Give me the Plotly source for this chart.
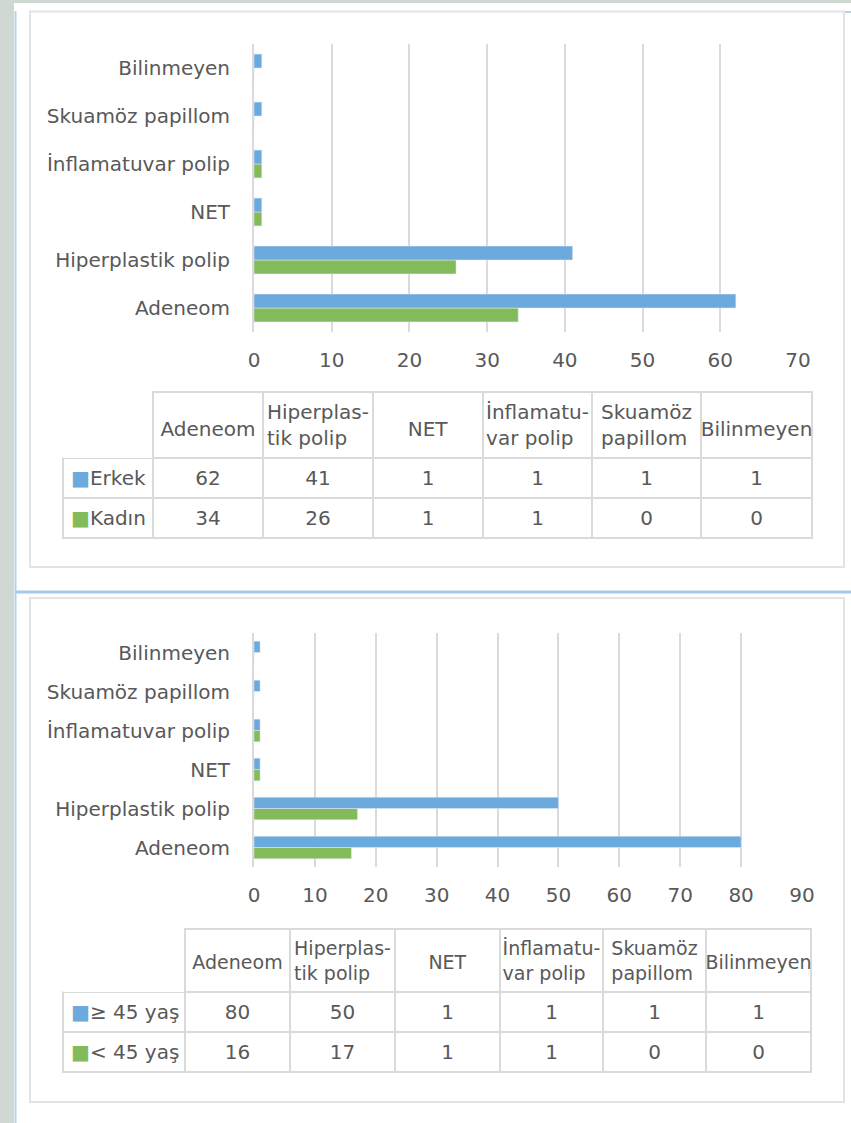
import plotly.graph_objects as go

W, H = 851, 1123

# ---------------- data ----------------
categories = ["Adeneom", "Hiperplastik polip", "NET", "İnflamatuvar polip",
              "Skuamöz papillom", "Bilinmeyen"]
table_headers = ["Adeneom", "Hiperplas-<br>tik polip", "NET", "İnflamatu-<br>var polip",
                 "Skuamöz<br>papillom", "Bilinmeyen"]

sex_names = ["Erkek", "Kadın"]
erkek = [62, 41, 1, 1, 1, 1]
kadin = [34, 26, 1, 1, 0, 0]

age_names = ["≥ 45 yaş", "&lt; 45 yaş"]
age_ge45 = [80, 50, 1, 1, 1, 1]
age_lt45 = [16, 17, 1, 1, 0, 0]

top_xmax = 70
bottom_xmax = 90

# ---------------- style ----------------
BLUE = "#6CA9DD"
GREEN = "#83BB5B"
GRID = "#DADADA"
TXT = "#595959"
FONT = "DejaVu Sans"


def px(x):
    return x / W


def py(y):
    return 1 - y / H


def square(color):
    return f"<span style='color:{color};font-size:20px'>■</span>"


def header_text(s, lead):
    if "<br>" in s:
        return s
    # single-line header: a small invisible first line pushes it to the middle
    return f"<span style='font-size:{lead}px'>&nbsp;</span><br>{s}"


fig = go.Figure()

# ---- top chart (sex) ----
fig.add_trace(go.Bar(y=categories, x=kadin, orientation="h", name=sex_names[1],
                     marker=dict(color=GREEN), xaxis="x", yaxis="y", showlegend=False))
fig.add_trace(go.Bar(y=categories, x=erkek, orientation="h", name=sex_names[0],
                     marker=dict(color=BLUE), xaxis="x", yaxis="y", showlegend=False))

# ---- bottom chart (age) ----
fig.add_trace(go.Bar(y=categories, x=age_lt45, orientation="h", name=age_names[1],
                     marker=dict(color=GREEN), xaxis="x2", yaxis="y2", showlegend=False))
fig.add_trace(go.Bar(y=categories, x=age_ge45, orientation="h", name=age_names[0],
                     marker=dict(color=BLUE), xaxis="x2", yaxis="y2", showlegend=False))


# ---- tables ----
def make_table(names, s1, s2, colwidths, ytop, ybot, xl, xr, hsize, csize, lead):
    first_col = [square(BLUE) + names[0] + "<br>", square(GREEN) + names[1] + "<br>"]
    values = [first_col] + [[f"{a}<br>", f"{b}<br>"] for a, b in zip(s1, s2)]
    return go.Table(
        domain=dict(x=[px(xl), px(xr)], y=[py(ybot), py(ytop)]),
        columnwidth=colwidths,
        header=dict(values=[""] + [header_text(h, lead) for h in table_headers],
                    height=54, align="center",
                    line=dict(color=["rgba(0,0,0,0)"] + [GRID] * 6, width=2),
                    fill=dict(color="white"),
                    font=dict(family=FONT, size=hsize, color=TXT)),
        cells=dict(values=values, height=40, align=["left"] + ["center"] * 6,
                   line=dict(color=GRID, width=2), fill=dict(color="white"),
                   font=dict(family=FONT, size=csize, color=TXT)),
    )


fig.add_trace(make_table(sex_names, erkek, kadin, [90, 110, 110, 110, 109, 109, 111],
                         392, 566, 63, 812, 20, 20, 11))
fig.add_trace(make_table(age_names, age_ge45, age_lt45, [122, 105, 105, 105, 103, 103, 105],
                         929, 1100, 63, 811, 19, 20, 8))

axfont = dict(family=FONT, size=20, color=TXT)

fig.update_layout(
    width=W, height=H, autosize=False,
    margin=dict(l=0, r=0, t=0, b=0, autoexpand=False),
    paper_bgcolor="#CFD9D1",
    plot_bgcolor="rgba(0,0,0,0)",
    barmode="group", bargap=0.42, bargroupgap=0,
    xaxis=dict(domain=[px(254), px(798)], range=[0, top_xmax], dtick=10, tick0=0,
               showgrid=True, gridcolor=GRID, gridwidth=2, zeroline=False,
               anchor="y", tickfont=axfont, ticklabelstandoff=14, fixedrange=True),
    yaxis=dict(domain=[py(332), py(44)], type="category", categoryorder="array",
               categoryarray=categories, showline=True, linecolor=GRID, linewidth=2,
               showgrid=False, anchor="x", tickfont=axfont, ticklabelstandoff=18,
               fixedrange=True),
    xaxis2=dict(domain=[px(254), px(802)], range=[0, bottom_xmax], dtick=10, tick0=0,
                showgrid=True, gridcolor=GRID, gridwidth=2, zeroline=False,
                anchor="y2", tickfont=axfont, ticklabelstandoff=14, fixedrange=True),
    yaxis2=dict(domain=[py(867), py(633)], type="category", categoryorder="array",
                categoryarray=categories, showline=True, linecolor=GRID, linewidth=2,
                showgrid=False, anchor="x2", tickfont=axfont, ticklabelstandoff=18,
                fixedrange=True),
    shapes=[
        dict(type="rect", xref="paper", yref="paper", x0=px(14), x1=px(851),
             y0=py(1123), y1=py(3), fillcolor="white", line=dict(width=0), layer="below"),
        dict(type="line", xref="paper", yref="paper", x0=px(15.5), x1=px(15.5),
             y0=py(1123), y1=py(11), line=dict(color="#B5D3EE", width=2), layer="below"),
        dict(type="line", xref="paper", yref="paper", x0=px(15), x1=px(851),
             y0=py(592), y1=py(592), line=dict(color="#A6C8EA", width=3), layer="below"),
        dict(type="line", xref="paper", yref="paper", x0=px(844), x1=px(851),
             y0=py(12), y1=py(12), line=dict(color="#B5D3EE", width=2), layer="below"),
        dict(type="rect", xref="paper", yref="paper", x0=px(30), x1=px(844),
             y0=py(567), y1=py(11.5), line=dict(color="#E3E3E3", width=2), layer="below"),
        dict(type="rect", xref="paper", yref="paper", x0=px(30), x1=px(844),
             y0=py(1102), y1=py(598), line=dict(color="#E3E3E3", width=2), layer="below"),
    ],
)

fig.write_html("out.html", config={"responsive": False})
